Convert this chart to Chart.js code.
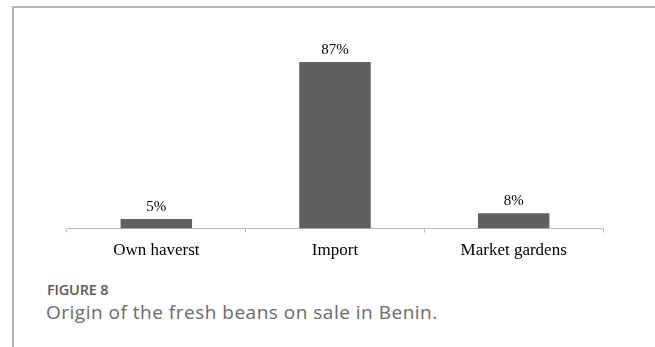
<!DOCTYPE html>
<html>
<head>
<meta charset="utf-8">
<script src="https://cdn.jsdelivr.net/npm/chart.js@4"></script>
<style>
  html, body { margin: 0; padding: 0; background: #fff; }
  body { width: 655px; height: 347px; position: relative; overflow: hidden; }
  .frame {
    position: absolute; left: 12px; top: 6px; right: -10px; bottom: -10px;
    border-left: 2px solid #b4b4b4; border-top: 2px solid #b4b4b4;
  }
  #wrap { position: absolute; left: 0; top: 0; width: 655px; height: 269px; }
  .fig-no {
    position: absolute; left: 47px; top: 280px;
    font: 600 14.5px "Open Sans", sans-serif; color: #5a5a5a; letter-spacing: -0.2px;
  }
  .fig-title {
    position: absolute; left: 46px; top: 299px;
    font: 400 19px "Open Sans", sans-serif; color: #6a6a6a; letter-spacing: 0.5px;
  }
</style>
</head>
<body>
<div class="frame"></div>
<div id="wrap"><canvas id="chart"></canvas></div>
<div class="fig-no">FIGURE 8</div>
<div class="fig-title">Origin of the fresh beans on sale in Benin.</div>

<script>
const categories = ["Own haverst", "Import", "Market gardens"];
const shares = [5, 87, 8];

// percentage labels above each bar
const valueLabels = {
  id: "valueLabels",
  afterDatasetsDraw(chart) {
    const { ctx } = chart;
    const meta = chart.getDatasetMeta(0);
    ctx.save();
    ctx.font = '15px "Liberation Serif", serif';
    ctx.fillStyle = "#000";
    ctx.textAlign = "center";
    ctx.textBaseline = "alphabetic";
    meta.data.forEach((bar, i) => {
      ctx.fillText(shares[i] + "%", bar.x, bar.y - 8);
    });
    ctx.restore();
  }
};

new Chart(document.getElementById("chart"), {
  type: "bar",
  data: {
    labels: categories,
    datasets: [{
      data: shares,
      backgroundColor: "#606060",
      categoryPercentage: 1,
      barPercentage: 0.4
    }]
  },
  options: {
    responsive: true,
    maintainAspectRatio: false,
    animation: false,
    layout: { padding: { left: 67, right: 52, top: 37, bottom: 0 } },
    plugins: { legend: { display: false }, tooltip: { enabled: false } },
    scales: {
      x: {
        grid: { drawOnChartArea: false, tickLength: 4, color: "#bdbdbd", lineWidth: 1 },
        border: { color: "#bdbdbd", width: 1 },
        ticks: {
          color: "#000",
          padding: 8,
          font: { family: "Liberation Serif", size: 17 }
        }
      },
      y: { display: false, min: 0, max: 100 }
    }
  },
  plugins: [valueLabels]
});
</script>
</body>
</html>
